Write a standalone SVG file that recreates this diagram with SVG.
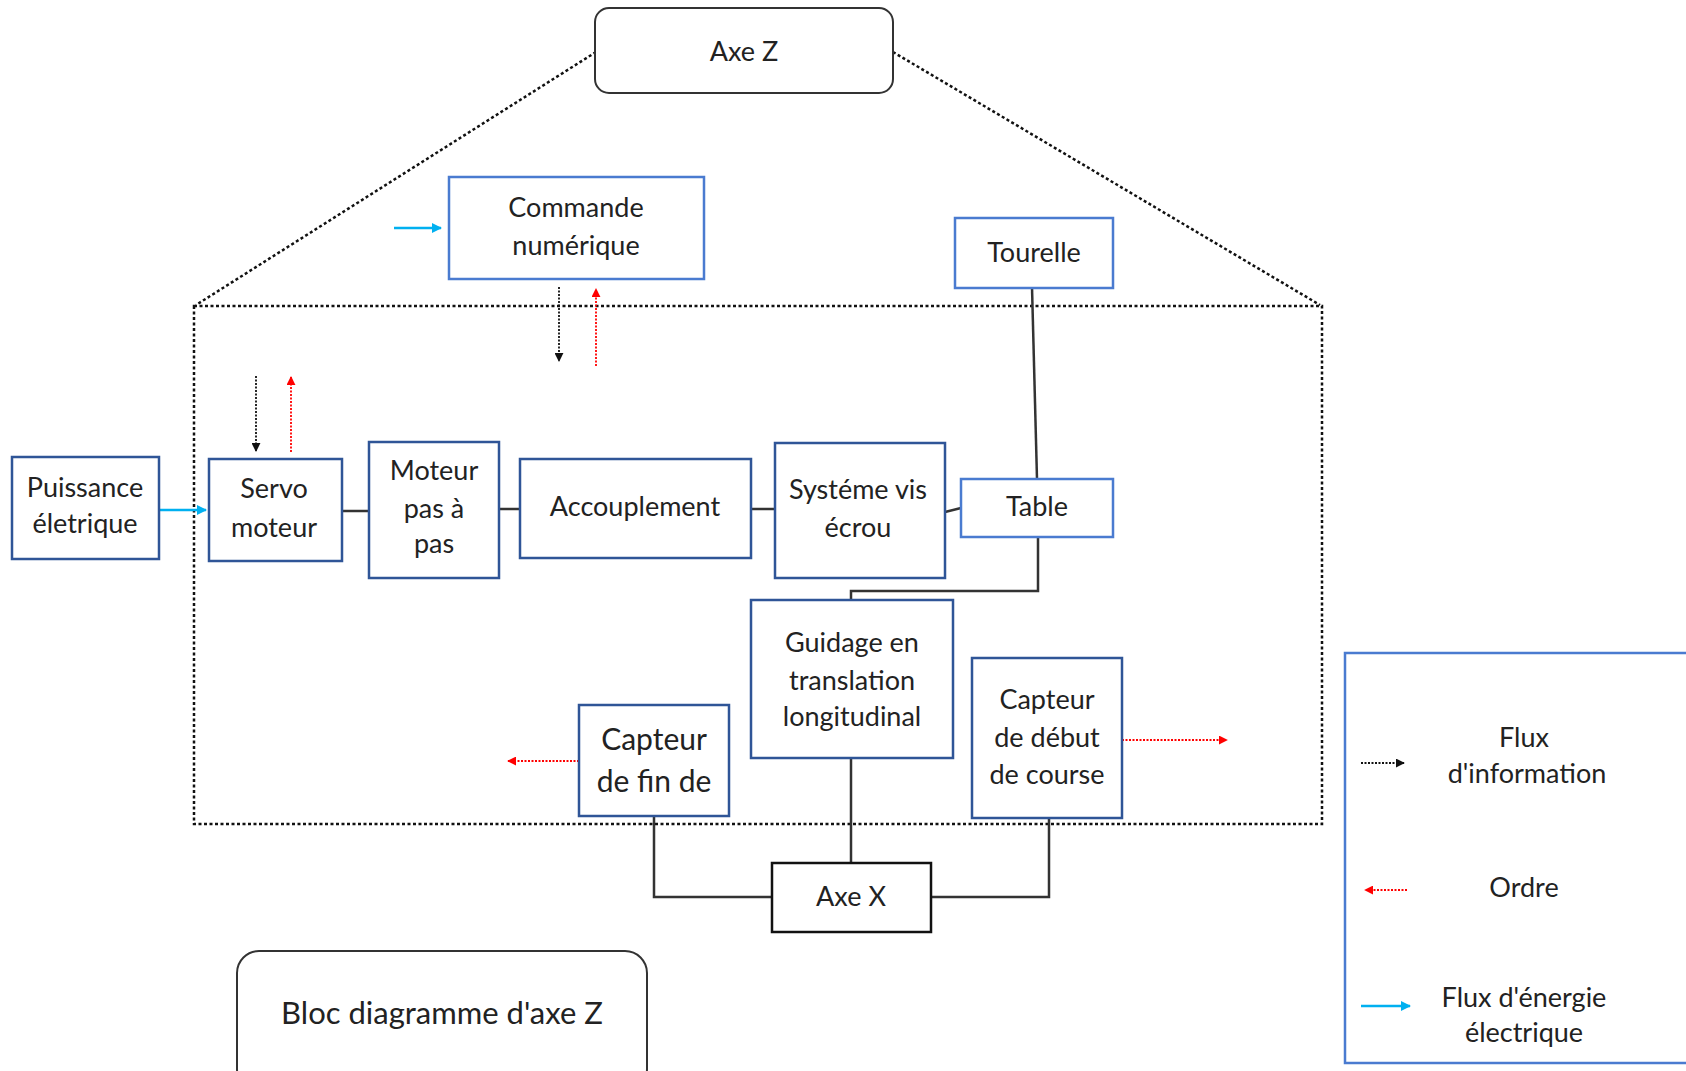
<svg xmlns="http://www.w3.org/2000/svg" width="1686" height="1071" viewBox="0 0 1686 1071">
<defs>
<marker id="ab" viewBox="0 0 10 10" refX="9" refY="5" markerWidth="5" markerHeight="5" orient="auto" markerUnits="strokeWidth"><path d="M0,0 L10,5 L0,10 z" fill="#111"/></marker>
<marker id="ar" viewBox="0 0 10 10" refX="9" refY="5" markerWidth="5" markerHeight="5" orient="auto" markerUnits="strokeWidth"><path d="M0,0 L10,5 L0,10 z" fill="#ff0000"/></marker>
<marker id="ac" viewBox="0 0 10 10" refX="9" refY="5" markerWidth="4" markerHeight="4" orient="auto" markerUnits="strokeWidth"><path d="M0,0 L10,5 L0,10 z" fill="#00b0f0"/></marker>
</defs>
<style>
text{font-family:Lato,"Open Sans","Liberation Sans",sans-serif;font-size:27px;fill:#222;text-anchor:middle}
.bd{fill:#fff;stroke:#2f5597;stroke-width:2.5}
.bl{fill:#fff;stroke:#4a7bd0;stroke-width:2.5}
.bk{fill:#fff;stroke:#111;stroke-width:2.5}
.rr{fill:#fff;stroke:#333;stroke-width:2}
.dash{fill:none;stroke:#111;stroke-width:2.5;stroke-dasharray:3 2.5}
.con{fill:none;stroke:#333;stroke-width:2.5}
.info{fill:none;stroke:#111;stroke-width:1.8;stroke-dasharray:2 1.5;marker-end:url(#ab)}
.ord{fill:none;stroke:#ff0000;stroke-width:1.8;stroke-dasharray:2 1.5;marker-end:url(#ar)}
.nrg{fill:none;stroke:#00b0f0;stroke-width:2.5;marker-end:url(#ac)}
</style>
<rect width="1686" height="1071" fill="#fff"/>

<g id="enclosure">
<path class="dash" d="M596,52 L196,305"/>
<path class="dash" d="M893,52 L1320,305"/>
<rect class="dash" x="194" y="306" width="1128" height="518"/>
</g>

<g id="connectors">
<path class="con" d="M342,511 H369"/>
<path class="con" d="M499,509 H520"/>
<path class="con" d="M751,509 H775"/>
<path class="con" d="M945,512 L961,508"/>
<path class="con" d="M1032,287 L1037,479"/>
<path class="con" d="M1038,537 V591 H851 V600"/>
<path class="con" d="M851,758 V863"/>
<path class="con" d="M654,816 V897 H772"/>
<path class="con" d="M1049,818 V897 H931"/>
<path class="nrg" d="M394,228 H441"/>
<path class="nrg" d="M159,510 H206"/>
<path class="info" d="M559,287 V361"/>
<path class="ord" d="M596,366 V289"/>
<path class="info" d="M256,376 V451"/>
<path class="ord" d="M291,452 V377"/>
<path class="ord" d="M579,761 H508"/>
<path class="ord" d="M1122,740 H1227"/>
</g>

<g id="axe-z"><rect class="rr" x="595" y="8" width="298" height="85" rx="14"/><text x="744" y="61">Axe Z</text></g>
<g id="commande-numerique"><rect class="bl" x="449" y="177" width="255" height="102"/><text x="576" y="217">Commande</text><text x="576" y="255">numérique</text></g>
<g id="tourelle"><rect class="bl" x="955" y="218" width="158" height="70"/><text x="1034" y="262">Tourelle</text></g>
<g id="puissance-electrique"><rect class="bd" x="12" y="457" width="147" height="102"/><text x="85" y="497">Puissance</text><text x="85" y="533">életrique</text></g>
<g id="servo-moteur"><rect class="bd" x="209" y="459" width="133" height="102"/><text x="274" y="498">Servo</text><text x="274" y="537">moteur</text></g>
<g id="moteur-pas-a-pas"><rect class="bd" x="369" y="442" width="130" height="136"/><text x="434" y="480">Moteur</text><text x="434" y="518">pas à</text><text x="434" y="553">pas</text></g>
<g id="accouplement"><rect class="bd" x="520" y="459" width="231" height="99"/><text x="635" y="516">Accouplement</text></g>
<g id="systeme-vis-ecrou"><rect class="bd" x="775" y="443" width="170" height="135"/><text x="858" y="499">Systéme vis</text><text x="858" y="537">écrou</text></g>
<g id="table"><rect class="bl" x="961" y="479" width="152" height="58"/><text x="1037" y="516">Table</text></g>
<g id="guidage"><rect class="bd" x="751" y="600" width="202" height="158"/><text x="852" y="652">Guidage en</text><text x="852" y="690">translation</text><text x="852" y="726">longitudinal</text></g>
<g id="capteur-fin"><rect class="bd" x="579" y="705" width="150" height="111"/><text x="654" y="750" style="font-size:30px">Capteur</text><text x="654" y="792" style="font-size:30px">de fin de</text></g>
<g id="capteur-debut"><rect class="bd" x="972" y="658" width="150" height="160"/><text x="1047" y="709">Capteur</text><text x="1047" y="747">de début</text><text x="1047" y="784">de course</text></g>
<g id="axe-x"><rect class="bk" x="772" y="863" width="159" height="69"/><text x="851" y="906">Axe X</text></g>
<g id="bloc-diagramme"><rect class="rr" x="237" y="951" width="410" height="140" rx="22"/><text x="442" y="1024" style="font-size:31px">Bloc diagramme d'axe Z</text></g>

<g id="legend">
<rect class="bl" x="1345" y="653" width="400" height="410"/>
<path class="info" d="M1361,763 H1404"/>
<text x="1524" y="747">Flux</text><text x="1527" y="783">d'information</text>
<path class="ord" d="M1407,890 H1365"/>
<text x="1524" y="897">Ordre</text>
<path class="nrg" d="M1361,1006 H1410"/>
<text x="1524" y="1007">Flux d'énergie</text><text x="1524" y="1042">électrique</text>
</g>
</svg>
